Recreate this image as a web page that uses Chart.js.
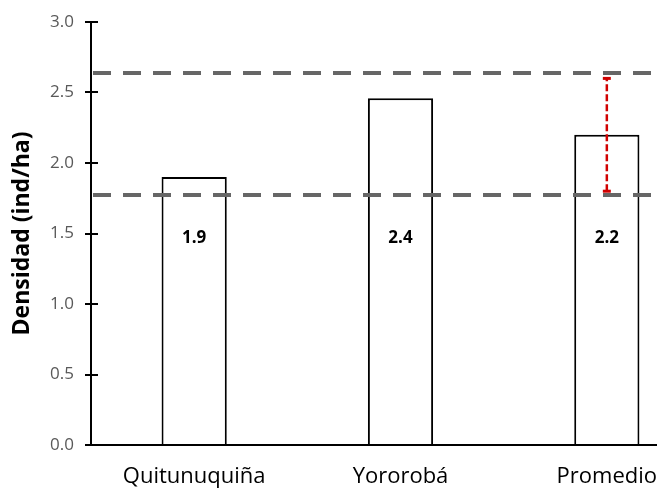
<!DOCTYPE html>
<html>
<head>
<meta charset="utf-8">
<script src="https://cdn.jsdelivr.net/npm/chart.js@4.4.0/dist/chart.umd.min.js"></script>
<style>
  html, body { margin: 0; padding: 0; background: #fff; overflow: hidden; }
  #wrap { width: 720px; height: 492px; }
</style>
</head>
<body>
<div id="wrap"><canvas id="chart" width="720" height="492"></canvas></div>
<script>
// data
const categories = ["Quitunuquiña", "Yororobá", "Promedio"];
const density = [1.9, 2.46, 2.2];
const valueLabels = ["1.9", "2.4", "2.2"];
const errLow = [null, null, 1.8];
const errHigh = [null, null, 2.6];
const refLines = [2.64, 1.77];
const yTicks = [0, 0.5, 1.0, 1.5, 2.0, 2.5, 3.0];

const FONT = "'Open Sans', sans-serif";

// dashed reference lines, error bar, value labels, inner half of cross ticks
const overlays = {
  id: "overlays",
  afterDatasetsDraw(chart) {
    const ctx = chart.ctx;
    const x = chart.scales.x, y = chart.scales.y;
    const area = chart.chartArea;
    ctx.save();

    ctx.strokeStyle = "#000";
    ctx.lineWidth = 2;
    yTicks.forEach(v => {
      if (v === 0) return;
      const py = Math.round(y.getPixelForValue(v));
      ctx.beginPath();
      ctx.moveTo(area.left, py);
      ctx.lineTo(area.left + 7, py);
      ctx.stroke();
    });

    ctx.strokeStyle = "#666666";
    ctx.lineWidth = 4;
    ctx.setLineDash([18, 12]);
    refLines.forEach(v => {
      const py = Math.round(y.getPixelForValue(v));
      ctx.beginPath();
      ctx.moveTo(area.left + 2, py);
      ctx.lineTo(chart.width, py);
      ctx.stroke();
    });

    ctx.strokeStyle = "#d00000";
    errLow.forEach((lo, i) => {
      if (lo == null) return;
      const px = x.getPixelForValue(i);
      const y1 = y.getPixelForValue(lo), y2 = y.getPixelForValue(errHigh[i]);
      ctx.lineWidth = 2.5;
      ctx.setLineDash([7, 3]);
      ctx.beginPath();
      ctx.moveTo(px, y1);
      ctx.lineTo(px, y2);
      ctx.stroke();
      ctx.setLineDash([]);
      ctx.lineWidth = 3;
      [y1, y2].forEach(py => {
        ctx.beginPath();
        ctx.moveTo(px - 4, py);
        ctx.lineTo(px + 4, py);
        ctx.stroke();
      });
    });

    ctx.fillStyle = "#000";
    ctx.font = "bold 17px " + FONT;
    ctx.textAlign = "center";
    ctx.textBaseline = "middle";
    valueLabels.forEach((t, i) => {
      ctx.fillText(t, x.getPixelForValue(i), y.getPixelForValue(1.47));
    });
    ctx.restore();
  }
};

new Chart(document.getElementById("chart"), {
  type: "bar",
  data: {
    labels: categories,
    datasets: [{
      data: density,
      backgroundColor: "#ffffff",
      borderColor: "#000000",
      borderWidth: 2,
      borderSkipped: "bottom",
      barPercentage: 0.316,
      categoryPercentage: 1.0
    }]
  },
  options: {
    responsive: false,
    animation: false,
    layout: { padding: { top: 22, right: 10, bottom: 0, left: 0 } },
    plugins: { legend: { display: false }, tooltip: { enabled: false } },
    scales: {
      x: {
        grid: { display: false },
        border: { display: true, color: "#000", width: 2 },
        ticks: { color: "#000", padding: 11, font: { family: FONT, size: 22 } },
        afterFit(s) { s.height = 47; }
      },
      y: {
        min: 0,
        max: 3,
        afterBuildTicks(s) { s.ticks = yTicks.map(v => ({ value: v })); },
        grid: { drawOnChartArea: false, drawTicks: true, tickLength: 6, color: "#000", lineWidth: 2 },
        border: { display: true, color: "#000", width: 2 },
        ticks: {
          color: "#595959",
          padding: 11,
          font: { family: FONT, size: 17 },
          callback: v => Number(v).toFixed(1)
        },
        title: {
          display: true,
          text: "Densidad (ind/ha)",
          color: "#000",
          font: { family: FONT, size: 23, weight: "bold" },
          padding: { top: 9, bottom: 0 }
        },
        afterFit(s) { s.width = 91; }
      }
    }
  },
  plugins: [overlays]
});
</script>
</body>
</html>
